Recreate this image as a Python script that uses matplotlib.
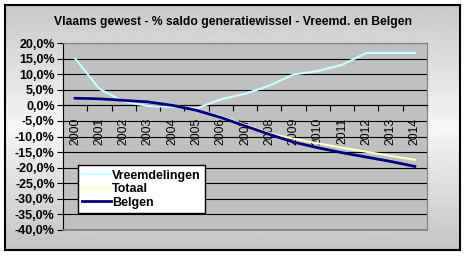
import numpy as np
import matplotlib
matplotlib.use('Agg')
import matplotlib.pyplot as plt

plt.rcParams['font.family'] = ['Liberation Sans', 'DejaVu Sans']

# data
years = ['2000', '2001', '2002', '2003', '2004', '2005', '2006', '2007',
         '2008', '2009', '2010', '2011', '2012', '2013', '2014']
vreemdelingen = [15.0, 5.3, 1.2, -0.2, -0.5, -1.0, 1.9, 3.7,
                 6.3, 9.9, 11.0, 13.0, 16.8, 16.8, 16.8]
totaal = [2.5, 2.3, 1.6, 1.0, 0.0, -1.5, -3.6, -6.2,
          -9.0, -10.7, -12.2, -13.6, -14.9, -16.2, -17.5]
belgen = [2.3, 2.1, 1.6, 1.1, 0.0, -1.6, -3.9, -6.6,
          -9.3, -11.8, -13.6, -15.2, -16.6, -18.0, -19.6]
y_ticks = [-40, -35, -30, -25, -20, -15, -10, -5, 0, 5, 10, 15, 20]

W, H = 466, 256
fig = plt.figure(figsize=(W / 100, H / 100), dpi=100)
fig.patch.set_facecolor('white')

# chart area with vertical gradient and black border
bg = fig.add_axes([5 / W, 1 - 250 / H, 455 / W, 245 / H])
grad = np.interp(np.linspace(0, 1, 256), [0, 0.5, 1], [200, 246, 195]) / 255
bg.imshow(grad[:, None], cmap='gray', vmin=0, vmax=1, aspect='auto',
          extent=[0, 1, 0, 1])
bg.set_xticks([])
bg.set_yticks([])
for s in bg.spines.values():
    s.set_color('black')
    s.set_linewidth(1.5)

ax = fig.add_axes([63 / W, 1 - 230 / H, 364 / W, 187 / H])
ax.set_facecolor('#C0C0C0')

x = np.arange(len(years))
ax.plot(x, vreemdelingen, color='#CCFFFF', lw=1.5, label='Vreemdelingen', zorder=3)
ax.plot(x, totaal, color='#FFFFCC', lw=1.5, label='Totaal', zorder=3)
ax.plot(x, belgen, color='#000080', lw=2.0, label='Belgen', zorder=4)

ax.set_xlim(-0.5, len(years) - 0.5)
ax.set_ylim(-40, 20)

# y axis
ax.set_yticks(y_ticks)
ax.set_yticklabels([f'{v:.1f}%'.replace('.', ',') for v in y_ticks],
                   fontsize=9, fontweight='bold')
ax.tick_params(axis='y', direction='out', length=4, width=0.8, color='black', pad=2)
ax.yaxis.grid(True, color='black', lw=0.8)
ax.set_axisbelow(True)

# x axis crossing at 0
ax.spines['bottom'].set_position(('data', 0))
ax.spines['bottom'].set_color('black')
ax.spines['bottom'].set_linewidth(0.8)
ax.spines['left'].set_color('black')
ax.spines['left'].set_linewidth(0.8)
ax.spines['top'].set_color('#808080')
ax.spines['right'].set_color('#808080')
ax.axhline(-40, color='#808080', lw=1.2, zorder=5, clip_on=False)

ax.set_xticks(x)
ax.set_xticklabels(years, rotation=90, fontsize=8.8)
ax.tick_params(axis='x', which='major', length=0, pad=9)
ax.set_xticks(np.arange(0.5, len(years), 1), minor=True)
ax.tick_params(axis='x', which='minor', direction='out', length=4, width=0.8, color='black')

leg = ax.legend(loc='upper left', bbox_to_anchor=(0.04, 0.345), fancybox=False,
                framealpha=1, edgecolor='black', prop={'weight': 'bold', 'size': 9},
                handlelength=2.3, handletextpad=0.1, labelspacing=0.12,
                borderpad=0.35, borderaxespad=0)
leg.get_frame().set_linewidth(1.0)

fig.text(233 / W, 1 - 22 / H,
         'Vlaams gewest - % saldo generatiewissel - Vreemd. en Belgen',
         ha='center', va='center', fontsize=8.7, fontweight='bold')

fig.savefig('out.png', dpi=100)
